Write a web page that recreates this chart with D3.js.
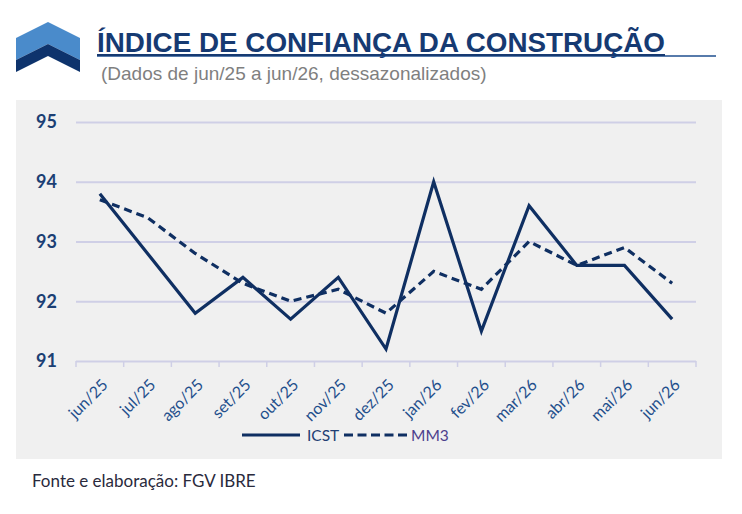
<!DOCTYPE html>
<html><head><meta charset="utf-8">
<script src="https://cdn.jsdelivr.net/npm/d3@7"></script>
<style>
html,body{margin:0;padding:0;background:#fff;}
svg{display:block;}
</style></head>
<body>
<svg id="chart" width="742" height="514"></svg>
<script>
const months = ["jun/25","jul/25","ago/25","set/25","out/25","nov/25","dez/25","jan/26","fev/26","mar/26","abr/26","mai/26","jun/26"];
const icst = [93.8,92.8,91.8,92.4,91.7,92.4,91.2,94.0,91.5,93.6,92.6,92.6,91.7];
const mm3  = [93.7,93.4,92.8,92.3,92.0,92.2,91.8,92.5,92.2,93.0,92.6,92.9,92.3];
const yTicks = [91,92,93,94,95];
const titleText = "ÍNDICE DE CONFIANÇA DA CONSTRUÇÃO";
const subtitleText = "(Dados de jun/25 a jun/26, dessazonalizados)";
const sourceText = "Fonte e elaboração: FGV IBRE";
const legendNames = ["ICST","MM3"];

const navy = "#0f2f62";
const svg = d3.select("#chart");

// logo
const logo = svg.append("g");
logo.append("polygon").attr("points","16,38 48,22 80,38 80,60 48,44 16,60").attr("fill","#4a8bcb");
logo.append("polygon").attr("points","16,60 48,44 80,60 80,72 48,56 16,72").attr("fill","#0e336c");

// title
svg.append("text").attr("x",97).attr("y",52)
  .attr("font-family","Liberation Sans, Arial, sans-serif").attr("font-weight","bold")
  .attr("font-size",27).attr("fill","#163a72")
  .attr("textLength",568).attr("lengthAdjust","spacingAndGlyphs")
  .text(titleText);
svg.append("line").attr("x1",97).attr("x2",716).attr("y1",56).attr("y2",56)
  .attr("stroke","#1f4f8f").attr("stroke-width",1.5);
svg.append("line").attr("x1",97).attr("x2",665).attr("y1",55).attr("y2",55)
  .attr("stroke","#163a72").attr("stroke-width",2);
svg.append("text").attr("x",101).attr("y",80)
  .attr("font-family","Liberation Sans, Arial, sans-serif")
  .attr("font-size",19).attr("fill","#7f7f7f")
  .text(subtitleText);

// panel
svg.append("rect").attr("x",16).attr("y",100).attr("width",706).attr("height",359).attr("fill","#f0f0f0");

const x = d3.scaleBand().domain(months).range([76,696]).paddingInner(0).paddingOuter(0);
const y = d3.scaleLinear().domain([91,95]).range([361,122]);
const cx = d => x(d) + x.bandwidth()/2;

// y axis + grid
const yAxis = svg.append("g").attr("transform","translate(76,0)")
  .call(d3.axisLeft(y).tickValues(yTicks).tickSize(-620).tickPadding(19).tickFormat(d3.format("d")));
yAxis.select(".domain").remove();
yAxis.selectAll(".tick line").attr("stroke","#cfcfe6").attr("stroke-width",2);
yAxis.selectAll(".tick text").attr("font-family","Lato, 'Open Sans', sans-serif").attr("font-weight","bold")
  .attr("font-size",18).attr("fill","#1b3f74");

// x axis
const xAxis = svg.append("g").attr("transform","translate(0,361)")
  .call(d3.axisBottom(x).tickSize(0).tickPadding(0));
xAxis.select(".domain").remove();
xAxis.selectAll(".tick line").remove();
xAxis.selectAll(".tick text")
  .attr("font-family","Lato, 'Open Sans', sans-serif").attr("font-size",16).attr("fill","#1f4f8c")
  .attr("text-anchor","end").attr("y",0).attr("dy",0)
  .attr("transform","translate(9,25) rotate(-45)");
const edges = months.map(m => x(m)).concat([x(months[months.length-1]) + x.bandwidth()]);
svg.append("g").selectAll("line").data(edges).join("line")
  .attr("x1",d=>d).attr("x2",d=>d).attr("y1",361).attr("y2",367)
  .attr("stroke","#cfcfe6").attr("stroke-width",1.5);

// lines
const line = d3.line().x((d,i)=>cx(months[i])).y(d=>y(d));
svg.append("path").datum(mm3).attr("d",line).attr("fill","none")
  .attr("stroke",navy).attr("stroke-width",3.2).attr("stroke-dasharray","8,5");
svg.append("path").datum(icst).attr("d",line).attr("fill","none")
  .attr("stroke",navy).attr("stroke-width",3.2).attr("stroke-linejoin","miter");

// legend
const lg = svg.append("g");
lg.append("line").attr("x1",242).attr("x2",300).attr("y1",435).attr("y2",435).attr("stroke",navy).attr("stroke-width",3.2);
lg.append("text").attr("x",307).attr("y",441).attr("font-family","Lato, 'Open Sans', sans-serif").attr("font-size",15.5).attr("fill","#1f3f74").text(legendNames[0]);
lg.append("line").attr("x1",344).attr("x2",408).attr("y1",435).attr("y2",435).attr("stroke",navy).attr("stroke-width",3.2).attr("stroke-dasharray","9,4.5");
lg.append("text").attr("x",411).attr("y",441).attr("font-family","Lato, 'Open Sans', sans-serif").attr("font-size",15.5).attr("fill","#4d3f8c").text(legendNames[1]);

// source
svg.append("text").attr("x",32).attr("y",487).attr("font-family","Lato, 'Open Sans', sans-serif")
  .attr("font-size",17).attr("fill","#2a2a3c").text(sourceText);
</script>
</body></html>
